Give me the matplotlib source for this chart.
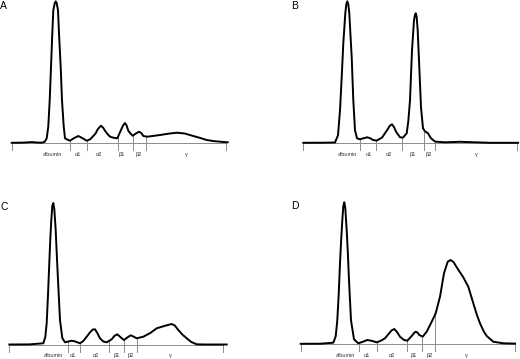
import numpy as np
import matplotlib
matplotlib.use("Agg")
import matplotlib.pyplot as plt

plt.rcParams['font.family'] = ['Liberation Sans', 'DejaVu Sans']

fractions = ["albumin", "α1", "α2", "β1", "β2", "γ"]
axis_end = 214

# densitometry traces (migration distance, density)
a_pos = [0, 12, 20, 25, 30, 33, 35, 36.6, 38, 39.3, 40.6, 41.6, 43, 44, 45, 46.3, 47.3, 49, 50.3, 52,
         53.3, 55, 58.3, 62, 66.6, 71, 75, 78.5, 81.6, 84, 86, 89.3, 91.5, 93.3, 96, 98.3, 102, 105.6, 109.3, 111.5,
         113.3, 114.8, 116.6, 119, 121, 124.5, 127.3, 129.8, 131.6, 135.6, 148.3, 156, 165, 173, 181.6, 188, 195, 202, 208.3, 216]
a_dens = [0.5, 0.7, 1.2, 0.8, 0.6, 1.5, 5, 17, 43, 76, 110, 133, 140, 142, 140, 133, 110, 76, 43, 17,
          5, 4, 2.6, 5, 7.3, 5, 2.6, 4, 7.3, 10, 14, 17.6, 15.5, 12.6, 9, 6.6, 5.5, 5, 13.3, 18,
          20.3, 18, 12.6, 9.5, 7.6, 10, 11.6, 10, 7.3, 6.6, 8.3, 9.5, 10.6, 9.8, 7.3, 5.5, 3.3, 2.2, 1.6, 1.0]
a_bounds = [58.3, 75.6, 106, 121.6, 134.3]
a_lab = [40.3, 66.6, 87.3, 110.3, 127.3, 174.3]

b_pos = [0, 20, 31.7, 34.7, 36.7, 38.5, 40, 42, 43, 44, 45, 46, 48.4, 50, 51.7, 53.7, 56.7, 60, 64, 67,
         69.7, 73.4, 78.7, 83.7, 86.5, 88.7, 90.8, 92.7, 96.7, 99.7, 103.4, 105, 106.7, 108.7, 110.7, 111.6, 112.4, 113.3, 114.4, 116,
         117.7, 119.7, 121.7, 124.7, 127.7, 131.7, 141.7, 156.7, 171.7, 186.7, 214.7]
b_dens = [0.5, 0.6, 0.8, 8, 33, 68, 100, 130, 139, 142, 139, 130, 86, 43, 13, 5, 4, 5, 6, 5,
          3.3, 2.7, 5.7, 13, 17.5, 19, 16, 11.7, 6, 5.7, 10, 22, 43, 93, 123, 128, 130, 127, 113, 76,
          36, 15, 12, 10, 5, 1.7, 1, 1.5, 1, 0.5, 0.5]
b_bounds = [56.7, 73, 99, 121, 131.7]
b_lab = [44, 66, 86, 110, 125.7, 172.7]

c_pos = [0, 20, 34, 36, 37.4, 38.7, 40, 41, 42, 43, 44, 45, 46.4, 47.5, 48.7, 50.7, 53, 55.7, 59, 62.4,
         66, 70.7, 74, 77.4, 81, 83.5, 85.7, 88, 90.7, 94, 97.4, 102.4, 105, 108, 111, 114.7, 118, 121.4, 124, 127.4,
         134, 141, 147.4, 155, 162.4, 165.5, 169, 173, 177.4, 182, 187.4, 195, 217.4]
c_dens = [0.5, 0.6, 1.7, 8, 22, 50, 82, 106, 125, 139, 142, 136, 115, 90, 65, 25, 7, 2.7, 3.5, 4.3,
          3.5, 1.7, 4, 8.3, 13, 15.5, 15.7, 12, 6.7, 3.5, 2.7, 5.7, 9, 10.7, 8, 5, 7.5, 9.7, 8.5, 6.7,
          8.3, 12, 16.7, 19, 21, 19.5, 15, 10.5, 6.7, 3, 0.7, 0.5, 0.5]
c_bounds = [58.4, 70.7, 99.7, 115, 127.7]
c_lab = [44, 64, 86.4, 107.4, 121.7, 161.4]

d_pos = [0, 20, 32.6, 35, 36.6, 38, 39.3, 40.5, 41.6, 42.6, 43.6, 44.6, 46, 47.2, 48.3, 50.3, 53.3, 57.6, 62, 66.6,
         71, 76, 80, 84.3, 88, 91, 93.6, 96.5, 99.3, 103, 106.6, 111, 113.5, 115.3, 117, 118.6, 122, 126, 131, 135,
         139.3, 143.3, 147, 150, 153, 156, 162.6, 167.6, 172.6, 176, 179.3, 183, 186, 192.6, 202.6, 214.3]
d_dens = [0.5, 0.6, 1.6, 8, 24, 50, 81, 105, 124, 138, 142, 136, 114, 90, 64, 24, 5, 1, 2.5, 4.3,
          3.5, 2, 3.5, 6, 10.5, 14, 15.3, 12, 7.6, 4.5, 3.6, 8.3, 11.5, 12.6, 11.5, 9.3, 7.6, 12.6, 22.6, 31,
          47.6, 71, 82.6, 84.3, 82, 77, 67, 57.6, 41, 30, 21, 13, 8.3, 2.6, 1, 0.7]
d_bounds = [58.6, 76, 106, 121.6, 134.6]
d_lab = [44.3, 66.6, 91.6, 113.6, 128.6, 165.3]

W, H = 520, 359
fig = plt.figure(figsize=(W / 100, H / 100), dpi=100)

# (letter, axis left px, axis line y px, letter x px, letter y px)
panels = [
    ("A", 11.7, 143.3, 3.5, 6.0, a_pos, a_dens, a_bounds, a_lab),
    ("B", 303.3, 143.3, 294.5, 6.0, b_pos, b_dens, b_bounds, b_lab),
    ("C", 9.3, 345.0, 4.5, 206.7, c_pos, c_dens, c_bounds, c_lab),
    ("D", 300.7, 344.3, 294.7, 206.0, d_pos, d_dens, d_bounds, d_lab),
]

grey = "#8c8c8c"
for letter, left, base, lx, ly, pos, dens, bounds, lab in panels:
    ax = fig.add_axes([left / W, (H - base) / H, axis_end / W, 142 / H])
    ax.set_xlim(0, axis_end)
    ax.set_ylim(0, 142)
    ax.axis("off")

    ax.plot([0, axis_end], [0, 0], color=grey, lw=0.7, clip_on=False)
    for x in [0, axis_end]:
        ax.plot([x, x], [0, -6.5], color=grey, lw=0.7, clip_on=False)
    for b in bounds:
        top = np.interp(b, pos, dens)
        ax.plot([b, b], [-6.5, top], color=grey, lw=0.7, clip_on=False)

    ax.plot(pos, dens, color="black", lw=1.4, solid_joinstyle="round", clip_on=False)

    for name, x in zip(fractions, lab):
        ax.text(x, -10.8, name, fontsize=4, ha="center", va="center", color="#333333")

    fig.text(lx / W, 1 - ly / H, letter, fontsize=7.5, ha="center", va="center")

fig.savefig("out.png", dpi=100)
